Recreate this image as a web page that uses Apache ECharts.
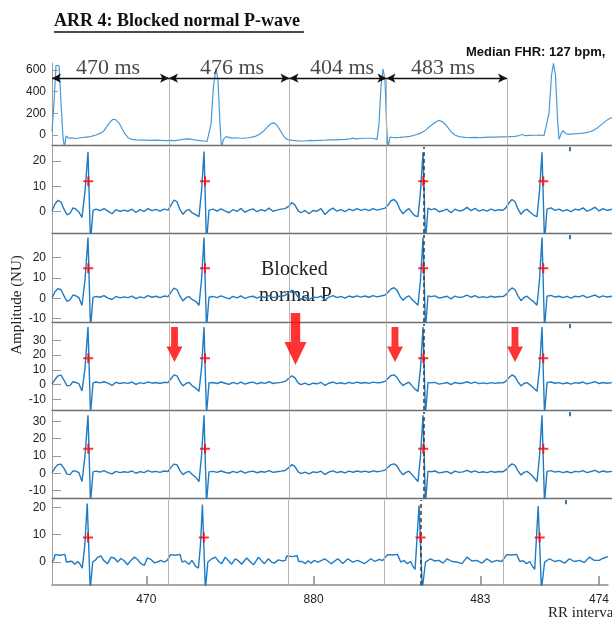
<!DOCTYPE html>
<html>
<head>
<meta charset="utf-8">
<script src="https://cdn.jsdelivr.net/npm/echarts@6/dist/echarts.min.js"></script>
<style>
html, body { margin: 0; padding: 0; background: #fff; }
#chart { width: 612px; height: 619px; }
</style>
</head>
<body>
<div id="chart"></div>
<script>
// time in ms, 4 ms per pixel of the original strip
var topTrace = [
    [0, 30], [8, 300], [16, 640], [22, 655], [28, 640], [36, 300], [44, -20], [50, -120], [56, -10], [62, -5],
    [68, -30], [80, -28], [96, -32], [112, -25], [128, -22], [144, -18], [160, -10], [176, 0], [192, 15], [208, 40],
    [220, 80], [232, 120], [244, 145], [256, 140], [268, 110], [280, 60], [292, 10], [304, -25], [320, -40], [336, -45],
    [352, -48], [372, -47], [392, -50], [412, -48], [432, -50], [452, -52], [472, -50], [492, -52], [512, -45], [528, -38],
    [544, -35], [560, -40], [576, -48], [592, -52], [608, -55], [620, -60], [628, -50], [636, 100], [646, 450], [656, 615],
    [664, 500], [672, 100], [678, -120], [686, -40], [696, -15], [704, -22], [720, -28], [736, -25], [752, -30], [768, -28],
    [784, -25], [800, -20], [816, -10], [832, 10], [848, 40], [864, 80], [876, 105], [888, 112], [900, 90], [912, 45],
    [924, 0], [936, -35], [952, -48], [972, -52], [992, -55], [1012, -55], [1032, -50], [1052, -52], [1072, -50], [1092, -48],
    [1112, -45], [1132, -45], [1152, -42], [1172, -40], [1192, -35], [1204, -28], [1216, -35], [1232, -32], [1252, -30], [1272, -30],
    [1288, -32], [1300, -40], [1308, 100], [1316, 450], [1324, 610], [1332, 500], [1338, 100], [1344, -120], [1352, -20], [1360, -15],
    [1372, -25], [1392, -22], [1412, -18], [1432, -12], [1452, 0], [1472, 15], [1492, 40], [1512, 80], [1532, 115], [1548, 135],
    [1564, 120], [1580, 80], [1596, 30], [1612, 0], [1628, -15], [1652, -22], [1672, -25], [1692, -22], [1712, -25], [1732, -22],
    [1752, -20], [1772, -20], [1792, -18], [1812, -18], [1832, -15], [1852, -12], [1868, -5], [1880, 5], [1892, -5], [1912, -3],
    [1932, -2], [1952, 0], [1968, -5], [1976, -15], [1988, 200], [1998, 550], [2006, 660], [2014, 550], [2022, 150], [2028, -40],
    [2036, 10], [2044, 40], [2052, 20], [2064, 5], [2080, 10], [2096, 12], [2112, 15], [2132, 20], [2152, 30], [2168, 45],
    [2184, 70], [2200, 100], [2216, 130], [2228, 150], [2240, 160]
];

// shared sample times of channels 2-5
var lowerTime = [
    0, 12, 24, 36, 48, 60, 72, 84, 96, 108, 120, 132, 144, 154, 164,
    176, 192, 208, 224, 240, 256, 272, 288, 304, 320, 336, 352, 368, 384, 400, 416, 432, 448, 464,
    476, 488, 500, 512, 524, 536, 548, 560, 576, 588, 598, 608, 618, 628,
    644, 660, 676, 692, 708, 724, 740, 756, 772, 788, 804, 820, 836, 852, 868, 884, 900, 916, 932,
    948, 960, 972, 984, 996,
    1012, 1028, 1044, 1060, 1076, 1092, 1108, 1124, 1140, 1156, 1172, 1188, 1204, 1220, 1236, 1252, 1268, 1284, 1300, 1316, 1332,
    1344, 1356, 1368, 1380, 1392, 1404, 1416, 1428, 1440, 1452, 1464, 1474, 1484, 1494, 1504,
    1516, 1532, 1548, 1564, 1580, 1596, 1612, 1628, 1644, 1660, 1676, 1692, 1708, 1724, 1740, 1756, 1772, 1788, 1804,
    1816, 1828, 1840, 1852, 1864, 1876, 1888, 1900, 1916, 1928, 1940, 1950, 1960, 1970, 1980,
    1996, 2012, 2028, 2044, 2060, 2076, 2092, 2108, 2124, 2140, 2156, 2172, 2188, 2204, 2220, 2240
];

var ch2 = [
    0.3, 3.0, 4.5, 3.8, 1.0, -1.2, -0.6, 1.5, 1.0, -0.2, -2.2, 8, 23.5, -12, 0.5,
    1.0, 0.4, 1.2, 0.2, -0.8, 0.8, 0.1, 0.6, 0.2, 1.0, -0.3, 0.8, 0.1, 1.2, 0.4, 0.9, 0.2, 1.0, 0.6,
    2.6, 4.6, 3.9, 0.8, -1.0, 0.4, 0.9, -0.4, -1.2, -1.9, 8, 23.6, -12, 0.6,
    1.0, 0.2, 1.1, 0.3, -0.4, 0.8, 0.1, 1.3, -0.2, 0.6, 1.1, 0.0, 0.8, 0.3, 1.4, 0.2, 0.6, 1.0, 1.2,
    2.2, 3.6, 2.6, 0.4, -0.4,
    0.5, -0.8, 0.5, 0.2, 1.2, -1.1, 0.5, 1.4, 0.2, 0.8, 0.0, 1.0, 0.4, 1.2, 0.5, 1.0, 0.4, 1.2, 0.6, 1.0, 1.4,
    2.6, 4.3, 4.8, 3.6, 0.8, -0.8, 0.4, 1.2, -0.4, -1.6, -1.9, 8, 23.3, -12, 1.4,
    0.8, 1.2, 0.0, 0.4, 1.0, -0.4, 1.0, 0.3, 0.6, 1.7, 0.4, 1.3, 0.2, 0.8, 0.2, 1.0, 0.4, 0.8, 0.6,
    1.6, 3.5, 4.8, 3.9, 1.0, -1.0, 0.4, 1.0, -0.5, -1.4, -1.9, 8, 23.3, -12, 1.0,
    1.5, 0.5, 1.0, 0.2, 0.8, 0.0, 1.0, 0.6, 1.5, 0.2, 0.8, 1.8, 0.3, 1.2, 0.5, 1.0
];
var ch3 = [
    0.2, 3.2, 4.8, 4.2, 1.2, -1.5, -0.8, 1.6, 1.2, 0.2, -3.5, 9, 30, -15, 0.4,
    0.9, 0.5, 1.3, 0.1, -0.6, 0.9, 0.2, 0.7, 0.3, 1.1, -0.2, 0.7, 0.2, 1.3, 0.5, 1.0, 0.3, 1.1, 0.8,
    3.0, 5.0, 4.2, 1.0, -1.3, 0.3, 0.9, -0.6, -1.6, -3.5, 9, 30, -15, 0.5,
    0.9, 0.3, 1.2, 0.4, -0.3, 0.9, 0.2, 1.2, -0.1, 0.7, 1.0, 0.1, 0.9, 0.4, 1.3, 0.3, 0.7, 1.1, 1.4,
    2.6, 4.0, 3.0, 0.6, -0.5,
    0.6, -0.6, 0.6, 0.3, 1.1, -0.9, 0.6, 1.3, 0.3, 0.9, 0.1, 1.1, 0.5, 1.2, 0.6, 1.1, 0.5, 1.3, 0.7, 1.1, 1.6,
    3.0, 4.6, 5.2, 4.0, 1.0, -1.0, 0.4, 1.2, -0.6, -2.0, -3.4, 9, 30, -15, 1.2,
    0.8, 1.2, 0.1, 0.5, 1.0, -0.3, 1.1, 0.4, 0.7, 1.6, 0.5, 1.3, 0.3, 0.8, 0.3, 1.0, 0.5, 0.9, 0.8,
    1.8, 3.8, 5.1, 4.2, 1.2, -1.2, 0.4, 1.0, -0.7, -1.8, -3.4, 9, 30, -15, 1.0,
    1.4, 0.6, 1.0, 0.3, 0.9, 0.1, 1.0, 0.7, 1.4, 0.3, 0.9, 1.6, 0.4, 1.2, 0.6, 1.0
];
var ch4 = [
    0.3, 3.5, 6.0, 6.5, 3.0, -0.8, -0.5, 2.0, 1.5, 0.5, -4.2, 11, 39, -20, 1.2,
    1.8, 1.2, 2.0, 1.0, -0.5, 1.6, 0.8, 1.4, 0.9, 1.8, 0.2, 1.4, 0.7, 1.9, 1.0, 1.5, 0.8, 1.6, 1.4,
    4.0, 6.6, 6.0, 2.0, -0.8, 0.8, 1.6, -0.6, -2.5, -4.5, 11, 39, -20, 1.2,
    1.5, 0.8, 1.8, 1.0, 0.2, 1.6, 0.6, 1.8, 0.4, 1.3, 1.7, 0.6, 1.5, 0.9, 2.0, 0.8, 1.2, 1.6, 2.2,
    4.4, 6.0, 4.6, 1.2, 0.0,
    1.0, -0.2, 1.0, 0.6, 1.6, -0.5, 1.0, 1.8, 0.7, 1.3, 0.5, 1.5, 0.9, 1.7, 1.0, 1.5, 0.9, 1.7, 1.2, 1.5, 2.2,
    4.2, 6.2, 6.6, 5.0, 1.6, -0.6, 0.8, 1.6, -0.8, -3.0, -4.5, 11, 39, -20, 1.6,
    1.2, 1.6, 0.4, 0.9, 1.5, 0.0, 1.5, 0.8, 1.1, 2.0, 0.9, 1.7, 0.7, 1.2, 0.7, 1.4, 0.9, 1.3, 1.2,
    2.4, 4.8, 6.6, 5.4, 1.8, -0.8, 0.8, 1.4, -0.6, -2.6, -4.5, 11, 39, -20, 1.4,
    1.8, 1.0, 1.4, 0.6, 1.3, 0.4, 1.4, 1.0, 1.8, 0.6, 1.2, 2.0, 0.8, 1.5, 1.0, 1.4
];
var ch5 = [
    0.3, 3.2, 5.0, 5.3, 2.8, -0.5, -0.8, 1.4, 1.2, 0.2, -4.8, 10, 33.5, -17, 0.8,
    1.2, 0.7, 1.5, 0.4, -0.4, 1.1, 0.4, 0.9, 0.5, 1.3, 0.0, 1.0, 0.4, 1.5, 0.7, 1.1, 0.5, 1.3, 1.0,
    3.4, 5.3, 4.8, 1.5, -0.9, 0.5, 1.1, -0.6, -2.5, -4.8, 10, 33.5, -17, 0.8,
    1.1, 0.5, 1.3, 0.6, 0.0, 1.1, 0.4, 1.4, 0.1, 0.9, 1.2, 0.3, 1.0, 0.6, 1.5, 0.5, 0.9, 1.2, 1.6,
    3.4, 5.0, 3.8, 0.9, -0.2,
    0.7, -0.4, 0.8, 0.4, 1.2, -0.7, 0.7, 1.4, 0.4, 1.0, 0.2, 1.2, 0.6, 1.3, 0.7, 1.2, 0.6, 1.4, 0.9, 1.2, 1.8,
    3.5, 5.0, 5.4, 4.3, 1.2, -0.9, 0.5, 1.2, -0.8, -2.8, -4.8, 10, 33.5, -17, 1.2,
    0.9, 1.3, 0.2, 0.6, 1.1, -0.2, 1.2, 0.5, 0.8, 1.7, 0.6, 1.4, 0.4, 0.9, 0.4, 1.1, 0.6, 1.0, 0.9,
    2.0, 4.0, 5.4, 4.6, 1.4, -1.0, 0.5, 1.1, -0.7, -2.6, -4.8, 10, 33.5, -17, 1.1,
    1.5, 0.7, 1.1, 0.4, 1.0, 0.2, 1.1, 0.8, 1.5, 0.4, 1.0, 1.7, 0.5, 1.3, 0.7, 1.1
];

var ch6 = [
    [0, 0], [8, 1.0], [12, 2.7], [32, 2.5], [52, 2.8], [58, 0.0], [64, -0.6], [80, 0.3], [92, -0.8], [104, 0.2],
    [112, -0.6], [122, -2.2], [132, 6], [142, 21.4], [154, -10], [164, 0.0], [176, 0.8], [184, 1.8], [198, 2.2], [208, 0.6],
    [224, -0.6], [238, 1.8], [252, 1.4], [264, 0.0], [278, 1.3], [292, 0.4], [304, -1.0], [318, 0.6], [332, 1.8], [344, 1.0],
    [358, -0.6], [372, -1.2], [384, 1.5], [398, 1.0], [412, -0.3], [424, 0.0], [438, 0.6], [452, 0.0], [464, 0.6], [472, 0.3],
    [478, 2.7], [496, 2.5], [516, 2.8], [524, 0.0], [536, 0.4], [552, -0.8], [564, 0.6], [578, -1.5], [590, -2.2], [598, 6],
    [606, 21], [618, -10], [628, 0.0], [644, 1.2], [658, 1.8], [672, 0.2], [684, -0.6], [698, 1.8], [712, 0.4], [724, -0.8],
    [738, 1.2], [752, 0.4], [764, -0.8], [784, 1.5], [798, 0.2], [812, -1.0], [832, 1.8], [844, 0.5], [856, -0.6], [872, 1.2],
    [884, 0.0], [896, -0.4], [912, 0.8], [928, 0.4], [940, 0.6], [946, 2.2], [968, 2.0], [988, 2.3], [994, 0.2], [1008, 0.2],
    [1020, -0.6], [1032, 0.5], [1044, -0.4], [1056, 0.6], [1072, 0.0], [1099, 1.2], [1125, -0.6], [1152, 1.2], [1172, -0.5], [1192, 1.2],
    [1212, 0.0], [1232, 0.6], [1259, -0.6], [1285, 1.2], [1301, 0.2], [1319, 1.0], [1332, 0.5], [1352, 2.7], [1372, 2.6], [1392, 2.8],
    [1405, 0.0], [1419, 0.6], [1432, -0.6], [1445, 0.2], [1452, -1.2], [1463, -2.7], [1479, 20.7], [1492, -10], [1505, 0.0], [1525, 1.2],
    [1541, 0.4], [1559, 0.6], [1576, -0.4], [1592, 1.2], [1612, 0.2], [1632, 0.0], [1652, -0.6], [1672, 1.8], [1692, 0.4], [1712, 0.6],
    [1732, -0.4], [1752, 1.2], [1772, 0.0], [1792, 0.6], [1812, 0.2], [1832, 2.7], [1852, 2.6], [1872, 2.8], [1885, 0.2], [1899, 0.5],
    [1912, -0.6], [1925, 0.2], [1932, -1.0], [1945, -2.7], [1959, 20.5], [1972, -10], [1985, 0.0], [2005, 1.2], [2025, 0.2], [2045, 0.6],
    [2065, -0.4], [2085, 1.2], [2105, 0.2], [2125, 0.6], [2145, -0.2], [2165, 1.8], [2185, 0.6], [2205, 0.6], [2221, 1.4], [2240, 2.0]
];

// detected R peaks (red crosses)
var peakT = [145, 612, 1485, 1965];
var peakY = [12, 14.8, 17.8, 14.2, 9];

// RR annotations of the top strip
var rrEdges = [0, 468, 950, 1338, 1820];
var rrLabels = ['470 ms', '476 ms', '404 ms', '483 ms'];
var rrLabelT = [224, 720, 1160, 1564];
var rrArrowY = 523;
var rrLabelY = 611;

var dividerT = [468, 950, 1338, 1820];
var dashedT = 1487;
var stubT = 2072;

// red arrows pointing at the P-waves (channel 4)
var pArrowT = [490, 974, 1372, 1852];
var pArrowY = [27.2, 30.9, 27.2, 27.2];

var yTicks = [
    [0, 200, 400, 600],
    [0, 10, 20],
    [-10, 0, 10, 20],
    [-10, 0, 10, 20, 30],
    [-10, 0, 10, 20, 30],
    [0, 10, 20]
];
var xTickT = [380, 1054, 1726, 2204];
var xTickLabels = ['470', '880', '483', '474'];

var panels = [
    {top: 63, height: 82, min: -92, max: 663},
    {top: 147, height: 86, min: -8.35, max: 25.4},
    {top: 235, height: 87, min: -11.7, max: 31.2},
    {top: 324, height: 86, min: -17.1, max: 41},
    {top: 412, height: 86, min: -14.3, max: 35.4},
    {top: 500, height: 85, min: -8.4, max: 22.7}
];

var XMAX = 2240;
var SANS = '"Liberation Sans", Arial, sans-serif';
var SERIF = '"Liberation Serif", "Times New Roman", serif';
var CROSS = 'path://M6.4,0H9.6V6.4H16V9.6H9.6V16H6.4V9.6H0V6.4H6.4Z';
var DOWN_ARROW = 'path://M6,0H15V29H21L10.5,52L0,29H6Z';

var myChart = echarts.init(document.getElementById('chart'), null, {renderer: 'canvas'});

var grid = [], xAxis = [], yAxis = [], series = [];
panels.forEach(function (p, i) {
    var last = i === panels.length - 1;
    grid.push({left: 52, right: 0, top: p.top, height: p.height});
    xAxis.push({
        gridIndex: i,
        type: 'value',
        min: 0,
        max: XMAX,
        axisLine: {show: true, onZero: false, lineStyle: {color: last ? '#8a8a8a' : '#6f6f6f', width: last ? 1.5 : 1.3}},
        axisTick: {
            show: last,
            inside: true,
            length: 9,
            customValues: xTickT,
            lineStyle: {color: '#888', width: 1.5}
        },
        axisLabel: {
            show: last,
            margin: 9,
            customValues: xTickT,
            color: '#222',
            fontSize: 12,
            fontFamily: SANS,
            formatter: function (v) {
                return xTickLabels[xTickT.indexOf(v)];
            }
        },
        splitLine: {show: false}
    });
    yAxis.push({
        gridIndex: i,
        type: 'value',
        min: p.min,
        max: p.max,
        axisLine: {show: true, onZero: false, lineStyle: {color: '#a0a0a0', width: 1}},
        axisTick: {
            show: true,
            inside: true,
            length: i === 0 ? 6 : 9,
            customValues: yTicks[i],
            lineStyle: {color: '#999', width: 1}
        },
        axisLabel: {
            margin: 6,
            customValues: yTicks[i],
            color: '#222',
            fontSize: 12,
            fontFamily: SANS
        },
        splitLine: {show: false}
    });
});

// vertical separators
series.push({
    type: 'line',
    xAxisIndex: 0,
    yAxisIndex: 0,
    data: [],
    z: 1,
    markLine: {
        silent: true,
        symbol: 'none',
        label: {show: false},
        lineStyle: {color: '#b5b5b5', width: 1, type: 'solid'},
        data: dividerT.map(function (t) {
            return [{coord: [t, rrArrowY]}, {coord: [t, panels[0].min]}];
        })
    }
});
for (var k = 1; k < panels.length; k++) {
    var span = panels[k].max - panels[k].min;
    series.push({
        type: 'line',
        xAxisIndex: k,
        yAxisIndex: k,
        data: [],
        z: 1,
        markLine: {
            silent: true,
            symbol: 'none',
            label: {show: false},
            lineStyle: {color: '#b5b5b5', width: 1, type: 'solid'},
            data: dividerT.map(function (t) { return {xAxis: t}; }).concat([
                {xAxis: dashedT, lineStyle: {color: '#3a3a3a', width: 1.5, type: [4, 3]}},
                [
                    {coord: [stubT, panels[k].max], lineStyle: {color: '#2a7fc4', width: 2}},
                    {coord: [stubT, panels[k].max - span * 0.05]}
                ]
            ])
        }
    });
}

// top strip
series.push({
    type: 'line',
    xAxisIndex: 0,
    yAxisIndex: 0,
    data: topTrace,
    showSymbol: false,
    lineStyle: {color: '#4a9ad6', width: 1.2},
    z: 3
});
// RR double arrows
series.push({
    type: 'line',
    xAxisIndex: 0,
    yAxisIndex: 0,
    data: [],
    z: 4,
    markLine: {
        silent: true,
        symbol: ['arrow', 'arrow'],
        symbolSize: [7, 9],
        label: {show: false},
        lineStyle: {color: '#111', width: 1.4, type: 'solid'},
        data: rrLabels.map(function (l, j) {
            return [{coord: [rrEdges[j], rrArrowY]}, {coord: [rrEdges[j + 1], rrArrowY]}];
        })
    }
});
series.push({
    type: 'scatter',
    xAxisIndex: 0,
    yAxisIndex: 0,
    symbolSize: 0,
    z: 5,
    data: rrLabels.map(function (l, j) { return [rrLabelT[j], rrLabelY, l]; }),
    label: {
        show: true,
        position: 'inside',
        formatter: function (p) { return p.data[2]; },
        color: '#1a1a1a',
        fontSize: 22,
        fontFamily: SERIF
    }
});

// channels 2-6
var lowerSets = [ch2, ch3, ch4, ch5];
lowerSets.forEach(function (ys, j) {
    series.push({
        type: 'line',
        xAxisIndex: j + 1,
        yAxisIndex: j + 1,
        data: lowerTime.map(function (t, n) { return [t, ys[n]]; }),
        showSymbol: false,
        lineStyle: {color: '#1f7bc4', width: 1.4},
        z: 3
    });
});
series.push({
    type: 'line',
    xAxisIndex: 5,
    yAxisIndex: 5,
    data: ch6,
    showSymbol: false,
    lineStyle: {color: '#1f7bc4', width: 1.4},
    z: 3
});
for (var c = 0; c < 5; c++) {
    series.push({
        type: 'scatter',
        xAxisIndex: c + 1,
        yAxisIndex: c + 1,
        symbol: CROSS,
        symbolSize: 10,
        itemStyle: {color: '#ff0000'},
        z: 6,
        data: peakT.map(function (t) { return [t, peakY[c]]; })
    });
}

// red P-wave arrows
series.push({
    type: 'scatter',
    xAxisIndex: 3,
    yAxisIndex: 3,
    symbol: DOWN_ARROW,
    itemStyle: {color: '#ff0000'},
    z: 7,
    data: pArrowT.map(function (t, j) {
        return {value: [t, pArrowY[j]], symbolSize: j === 1 ? [22, 52] : [16, 35]};
    })
});

var option = {
    animation: false,
    backgroundColor: '#fff',
    grid: grid,
    xAxis: xAxis,
    yAxis: yAxis,
    series: series,
    graphic: [
        {type: 'text', x: 54, y: 21, style: {text: 'ARR 4: Blocked normal P-wave', font: 'bold 18px ' + SERIF, fill: '#111', verticalAlign: 'middle'}},
        {type: 'line', shape: {x1: 54, y1: 32, x2: 304, y2: 32}, style: {stroke: '#111', lineWidth: 1.3}},
        {type: 'text', x: 466, y: 52, style: {text: 'Median FHR: 127 bpm,', font: 'bold 13px ' + SANS, fill: '#111', verticalAlign: 'middle'}},
        {type: 'text', x: 17, y: 305, rotation: Math.PI / 2, style: {text: 'Amplitude (NU)', font: '15px ' + SERIF, fill: '#222', align: 'center', verticalAlign: 'middle'}},
        {type: 'text', x: 261, y: 270, style: {text: 'Blocked', font: '20px ' + SERIF, fill: '#222', verticalAlign: 'middle'}},
        {type: 'text', x: 259, y: 296, style: {text: 'normal P', font: '20px ' + SERIF, fill: '#222', verticalAlign: 'middle'}},
        {type: 'text', x: 548, y: 613, style: {text: 'RR interval', font: '15px ' + SERIF, fill: '#222', verticalAlign: 'middle'}}
    ]
};

myChart.setOption(option);
</script>
</body>
</html>
